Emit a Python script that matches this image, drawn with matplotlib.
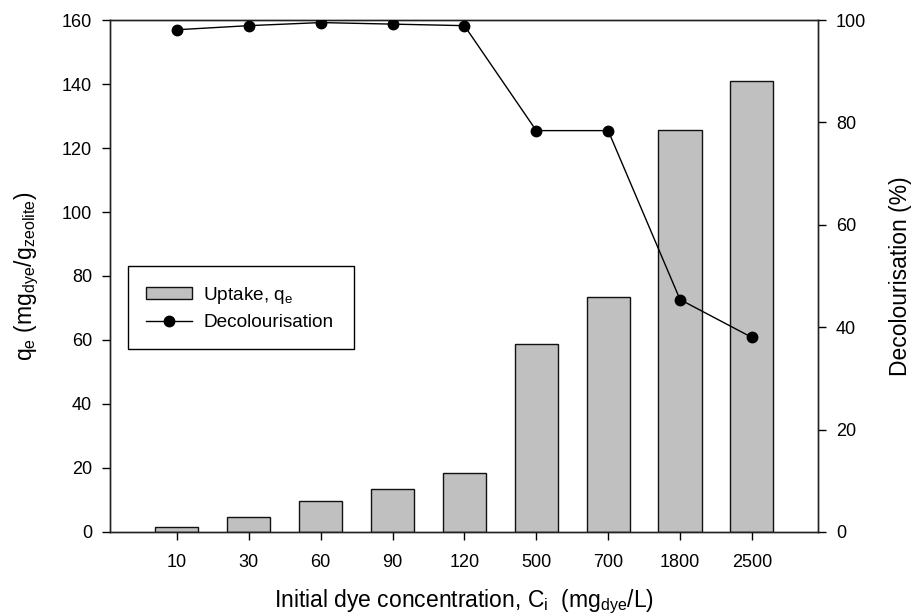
import matplotlib
matplotlib.use("Agg")
import matplotlib.pyplot as plt
import numpy as np

plt.rcParams['font.family'] = ['Liberation Sans', 'DejaVu Sans']
plt.rcParams['mathtext.default'] = 'regular'

categories = ['10', '30', '60', '90', '120', '500', '700', '1800', '2500']
uptake = [1.5, 4.8, 9.6, 13.4, 18.4, 58.7, 73.4, 125.6, 140.8]
decolour = [98.1, 98.9, 99.5, 99.2, 98.9, 78.4, 78.4, 45.4, 38.0]

fig = plt.figure(figsize=(9.13, 6.16), dpi=100)
ax = fig.add_axes([0.1205, 0.1364, 0.7755, 0.8311])
x = np.arange(len(categories))
bars = ax.bar(x, uptake, width=0.6, color='#c0c0c0', edgecolor='#111111', linewidth=1.0,
              label='Uptake, q$_{e}$', zorder=2)
ax.set_xlim(-0.93, 8.92)
ax.set_ylim(0, 160)
ax.set_yticks(np.arange(0, 161, 20))
ax.set_xticks(x)
ax.set_xticklabels(categories)
ax.tick_params(axis='both', direction='out', length=6, width=1, labelsize=13, pad=7)
ax.tick_params(axis='x', pad=10)
ax.set_ylabel('q$_{e}$ (mg$_{dye}$/g$_{zeolite}$)', fontsize=16.5, labelpad=15)
ax.set_xlabel('Initial dye concentration, C$_{i}$  (mg$_{dye}$/L)', fontsize=16.5, labelpad=12)

ax2 = ax.twinx()
line, = ax2.plot(x, decolour, color='black', lw=1.0, marker='o', markersize=7.5,
                 label='Decolourisation', zorder=3)
ax2.set_ylim(0, 100)
ax2.set_yticks(np.arange(0, 101, 20))
ax2.tick_params(axis='y', direction='out', length=6, width=1, labelsize=13, pad=7)
ax2.set_ylabel('Decolourisation (%)', fontsize=16.5, labelpad=16)

for a in (ax, ax2):
    for s in a.spines.values():
        s.set_color('#222222')
        s.set_linewidth(1.0)

leg = ax2.legend([bars, line], ['Uptake, q$_{e}$', 'Decolourisation'],
                 loc='lower left', bbox_to_anchor=(0.0254, 0.357, 0.319, 0.164),
                 mode='expand', borderaxespad=0,
                 fancybox=False, edgecolor='black', framealpha=1, fontsize=13.7,
                 handlelength=2.4, handleheight=0.65, handletextpad=0.6,
                 borderpad=0.95, labelspacing=0.45)
leg.get_frame().set_linewidth(1.0)

fig.savefig('out.png', dpi=100)
